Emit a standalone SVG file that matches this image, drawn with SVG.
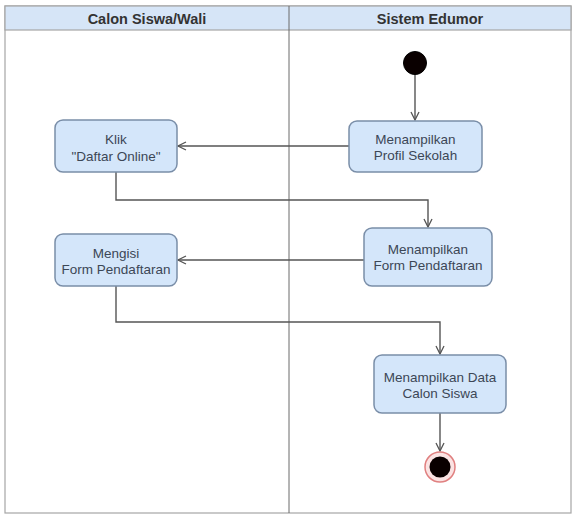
<svg xmlns="http://www.w3.org/2000/svg" width="572" height="515" viewBox="0 0 572 515">
  <defs>
    <style>
      .lane { fill: #ffffff; stroke: #a6a6a6; stroke-width: 1.2; }
      .hdr { fill: #d6e5f7; stroke: #a6a6a6; stroke-width: 1.2; }
      .div { stroke: #6b6b6b; stroke-width: 1; }
      .hdrtxt { font-family: "Liberation Sans", Arial, sans-serif; font-size: 14.5px; font-weight: bold; fill: #333333; text-anchor: middle; }
      .box { fill: #d4e6fa; stroke: #7a8ea8; stroke-width: 1.5; }
      .txt { font-family: "Liberation Sans", Arial, sans-serif; font-size: 13.5px; fill: #3c4756; text-anchor: middle; }
      .edge { fill: none; stroke: #555555; stroke-width: 1.4; marker-end: url(#open); }
    </style>
    <marker id="open" viewBox="0 0 10 10" refX="9" refY="5" markerWidth="10" markerHeight="10" markerUnits="userSpaceOnUse" orient="auto">
      <path d="M1,1 L9,5 L1,9" fill="none" stroke="#555555" stroke-width="1.3"/>
    </marker>
  </defs>

  <g id="swimlanes">
    <rect class="lane" x="5" y="6" width="566" height="507"/>
    <rect class="hdr" x="5" y="6" width="566" height="24"/>
    <line class="div" x1="289" y1="6" x2="289" y2="513"/>
    <text class="hdrtxt" x="147" y="24">Calon Siswa/Wali</text>
    <text class="hdrtxt" x="430" y="24">Sistem Edumor</text>
  </g>

  <g id="connectors">
    <line class="edge" x1="415" y1="74" x2="415" y2="120"/>
    <line class="edge" x1="349" y1="146" x2="178" y2="146"/>
    <polyline class="edge" points="116,172 116,200 428,200 428,227"/>
    <line class="edge" x1="364" y1="260" x2="178" y2="260"/>
    <polyline class="edge" points="116,286 116,322 440,322 440,354"/>
    <line class="edge" x1="440" y1="413" x2="440" y2="451"/>
  </g>

  <g id="start">
    <circle cx="415" cy="63" r="11.5" fill="#0a0000" stroke="#000000" stroke-width="1"/>
  </g>

  <g id="node-klik">
    <rect class="box" x="55" y="120" width="122" height="52" rx="8"/>
    <text class="txt" x="116" y="144">Klik</text>
    <text class="txt" x="116" y="161">"Daftar Online"</text>
  </g>

  <g id="node-profil">
    <rect class="box" x="349" y="121" width="133" height="51" rx="8"/>
    <text class="txt" x="415.5" y="144">Menampilkan</text>
    <text class="txt" x="415.5" y="160">Profil Sekolah</text>
  </g>

  <g id="node-form">
    <rect class="box" x="364" y="228" width="128" height="58" rx="8"/>
    <text class="txt" x="428" y="254">Menampilkan</text>
    <text class="txt" x="428" y="270">Form Pendaftaran</text>
  </g>

  <g id="node-mengisi">
    <rect class="box" x="55" y="234" width="122" height="52" rx="8"/>
    <text class="txt" x="116" y="258">Mengisi</text>
    <text class="txt" x="116" y="274">Form Pendaftaran</text>
  </g>

  <g id="node-data">
    <rect class="box" x="374" y="355" width="132" height="58" rx="8"/>
    <text class="txt" x="440" y="382">Menampilkan Data</text>
    <text class="txt" x="440" y="398">Calon Siswa</text>
  </g>

  <g id="end">
    <circle cx="440" cy="467" r="15" fill="#fbe3e3" stroke="#e08080" stroke-width="1.5"/>
    <circle cx="440" cy="467" r="10.5" fill="#0a0000"/>
  </g>
</svg>
